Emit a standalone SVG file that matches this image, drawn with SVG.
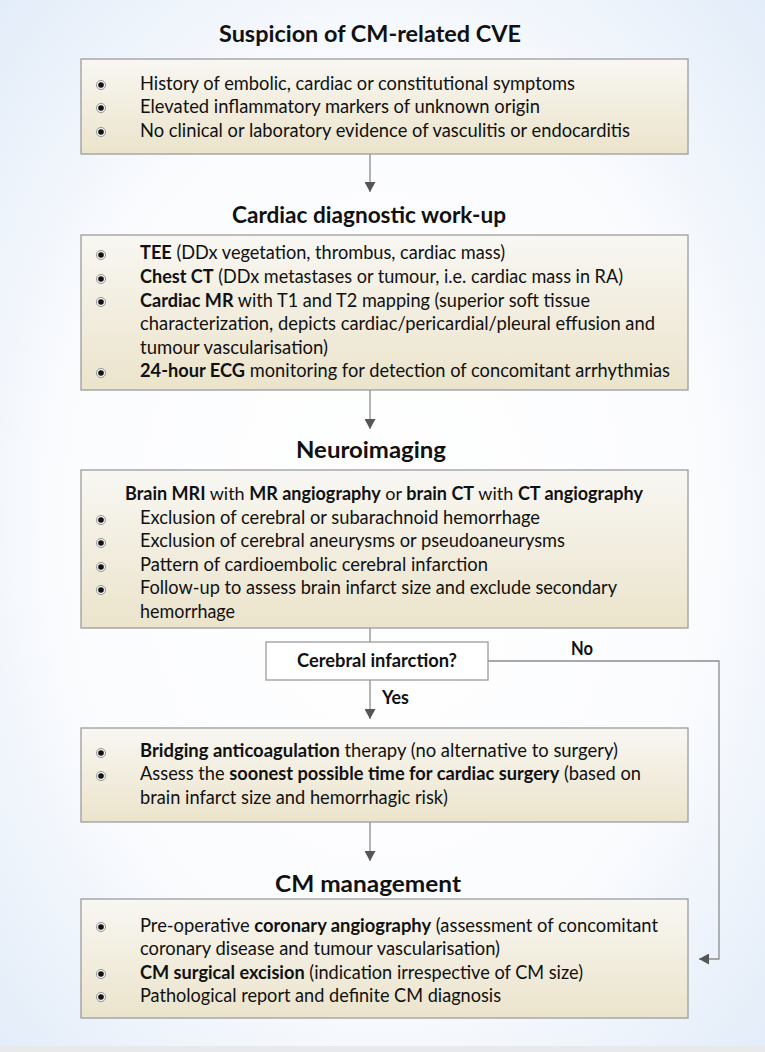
<svg xmlns="http://www.w3.org/2000/svg" xmlns:xlink="http://www.w3.org/1999/xlink" width="765" height="1052" viewBox="0 0 765 1052">
<defs>
<radialGradient id="bg" cx="0.5" cy="0.5" r="0.75">
<stop offset="0" stop-color="#ffffff"/>
<stop offset="0.55" stop-color="#fbfcfe"/>
<stop offset="1" stop-color="#dfeaf8"/>
</radialGradient>
<linearGradient id="boxg" x1="0" y1="0" x2="0" y2="1">
<stop offset="0" stop-color="#f8f7f3"/>
<stop offset="0.4" stop-color="#f3efe2"/>
<stop offset="1" stop-color="#ebe4cc"/>
</linearGradient>
<g id="bul">
<circle cx="0" cy="0" r="4.6" fill="#eeeeee" stroke="#9a9a9a" stroke-width="1"/>
<circle cx="0" cy="0" r="2.8" fill="#111111"/>
</g>
<marker id="ah" markerWidth="10" markerHeight="11" refX="10" refY="5.5" orient="auto" markerUnits="userSpaceOnUse">
<path d="M0,0 L10,5.5 L0,11 Z" fill="#555555"/>
</marker>
</defs>
<style>
.box{fill:url(#boxg);stroke:#9c9c9c;stroke-width:1.3}
.t{font-family:Lato,"Open Sans","Liberation Sans",sans-serif;font-size:18.5px;fill:#111}
.b{font-weight:bold}
.h{font-family:Lato,"Open Sans","Liberation Sans",sans-serif;font-size:23.5px;font-weight:bold;fill:#111}
.c{stroke:#8c8c8c;stroke-width:1.3;fill:none}
</style>
<rect width="765" height="1052" fill="url(#bg)"/>
<rect x="0" y="1046" width="765" height="6" fill="#e8e9eb"/>

<g id="connectors">
<path class="c" d="M370,154 V192" marker-end="url(#ah)"/>
<path class="c" d="M370,390 V429" marker-end="url(#ah)"/>
<path class="c" d="M370,628 V642"/>
<path class="c" d="M370,680 V719" marker-end="url(#ah)"/>
<path class="c" d="M370,822 V861" marker-end="url(#ah)"/>
<path class="c" d="M488,661 H719 V959 H699" marker-end="url(#ah)"/>
<text class="t b" x="571" y="655" textLength="22" lengthAdjust="spacingAndGlyphs">No</text>
<text class="t b" x="382" y="704" textLength="27" lengthAdjust="spacingAndGlyphs">Yes</text>
</g>

<g id="n1">
<text class="h" x="370" y="42" text-anchor="middle" textLength="302" lengthAdjust="spacingAndGlyphs">Suspicion of CM-related CVE</text>
<rect class="box" x="81" y="59" width="607" height="95"/>
<use xlink:href="#bul" x="101" y="85"/>
<use xlink:href="#bul" x="101" y="108"/>
<use xlink:href="#bul" x="101" y="132"/>
<text class="t" x="140" y="90" textLength="435" lengthAdjust="spacingAndGlyphs">History of embolic, cardiac or constitutional symptoms</text>
<text class="t" x="140" y="113" textLength="400" lengthAdjust="spacingAndGlyphs">Elevated inflammatory markers of unknown origin</text>
<text class="t" x="140" y="137" textLength="490" lengthAdjust="spacingAndGlyphs">No clinical or laboratory evidence of vasculitis or endocarditis</text>
</g>

<g id="n2">
<text class="h" x="369" y="223" text-anchor="middle" textLength="274" lengthAdjust="spacingAndGlyphs">Cardiac diagnostic work-up</text>
<rect class="box" x="81" y="235" width="607" height="155"/>
<use xlink:href="#bul" x="101" y="255"/>
<use xlink:href="#bul" x="101" y="279"/>
<use xlink:href="#bul" x="101" y="302"/>
<use xlink:href="#bul" x="101" y="373"/>
<text class="t" x="140" y="259" textLength="365" lengthAdjust="spacingAndGlyphs"><tspan class="b">TEE</tspan> (DDx vegetation, thrombus, cardiac mass)</text>
<text class="t" x="140" y="283" textLength="483" lengthAdjust="spacingAndGlyphs"><tspan class="b">Chest CT</tspan> (DDx metastases or tumour, i.e. cardiac mass in RA)</text>
<text class="t" x="140" y="307" textLength="450" lengthAdjust="spacingAndGlyphs"><tspan class="b">Cardiac MR</tspan> with T1 and T2 mapping (superior soft tissue</text>
<text class="t" x="140" y="330" textLength="515" lengthAdjust="spacingAndGlyphs">characterization, depicts cardiac/pericardial/pleural effusion and</text>
<text class="t" x="140" y="354" textLength="188" lengthAdjust="spacingAndGlyphs">tumour vascularisation)</text>
<text class="t" x="140" y="377" textLength="530" lengthAdjust="spacingAndGlyphs"><tspan class="b">24-hour ECG</tspan> monitoring for detection of concomitant arrhythmias</text>
</g>

<g id="n3">
<text class="h" x="371" y="458" text-anchor="middle" textLength="150" lengthAdjust="spacingAndGlyphs">Neuroimaging</text>
<rect class="box" x="81" y="470" width="607" height="158"/>
<text class="t" x="384" y="500" text-anchor="middle" style="font-size:18px"><tspan class="b">Brain MRI</tspan> with <tspan class="b">MR angiography</tspan> or <tspan class="b">brain CT</tspan> with <tspan class="b">CT angiography</tspan></text>
<use xlink:href="#bul" x="101" y="520"/>
<use xlink:href="#bul" x="101" y="543"/>
<use xlink:href="#bul" x="101" y="567"/>
<use xlink:href="#bul" x="101" y="590"/>
<text class="t" x="140" y="524" textLength="400" lengthAdjust="spacingAndGlyphs">Exclusion of cerebral or subarachnoid hemorrhage</text>
<text class="t" x="140" y="547" textLength="425" lengthAdjust="spacingAndGlyphs">Exclusion of cerebral aneurysms or pseudoaneurysms</text>
<text class="t" x="140" y="571" textLength="348" lengthAdjust="spacingAndGlyphs">Pattern of cardioembolic cerebral infarction</text>
<text class="t" x="140" y="594" textLength="477" lengthAdjust="spacingAndGlyphs">Follow-up to assess brain infarct size and exclude secondary</text>
<text class="t" x="140" y="618" textLength="95" lengthAdjust="spacingAndGlyphs">hemorrhage</text>
</g>

<g id="decision">
<rect x="266" y="642" width="222" height="38" fill="#ffffff" stroke="#9c9c9c" stroke-width="1.3"/>
<text class="t b" x="377" y="667" text-anchor="middle" textLength="160" lengthAdjust="spacingAndGlyphs">Cerebral infarction?</text>
</g>

<g id="n4">
<rect class="box" x="81" y="728" width="607" height="94"/>
<use xlink:href="#bul" x="101" y="753"/>
<use xlink:href="#bul" x="101" y="776"/>
<text class="t" x="140" y="757" textLength="478" lengthAdjust="spacingAndGlyphs"><tspan class="b">Bridging anticoagulation</tspan> therapy (no alternative to surgery)</text>
<text class="t" x="140" y="780" textLength="501" lengthAdjust="spacingAndGlyphs">Assess the <tspan class="b">soonest possible time for cardiac surgery</tspan> (based on</text>
<text class="t" x="140" y="804" textLength="308" lengthAdjust="spacingAndGlyphs">brain infarct size and hemorrhagic risk)</text>
</g>

<g id="n5">
<text class="h" x="368" y="892" text-anchor="middle" textLength="186" lengthAdjust="spacingAndGlyphs">CM management</text>
<rect class="box" x="81" y="899" width="607" height="119"/>
<use xlink:href="#bul" x="101" y="927"/>
<use xlink:href="#bul" x="101" y="974"/>
<use xlink:href="#bul" x="101" y="997"/>
<text class="t" x="140" y="932" textLength="518" lengthAdjust="spacingAndGlyphs">Pre-operative <tspan class="b">coronary angiography</tspan> (assessment of concomitant</text>
<text class="t" x="140" y="955" textLength="360" lengthAdjust="spacingAndGlyphs">coronary disease and tumour vascularisation)</text>
<text class="t" x="140" y="979" textLength="443" lengthAdjust="spacingAndGlyphs"><tspan class="b">CM surgical excision</tspan> (indication irrespective of CM size)</text>
<text class="t" x="140" y="1002" textLength="361" lengthAdjust="spacingAndGlyphs">Pathological report and definite CM diagnosis</text>
</g>
</svg>
